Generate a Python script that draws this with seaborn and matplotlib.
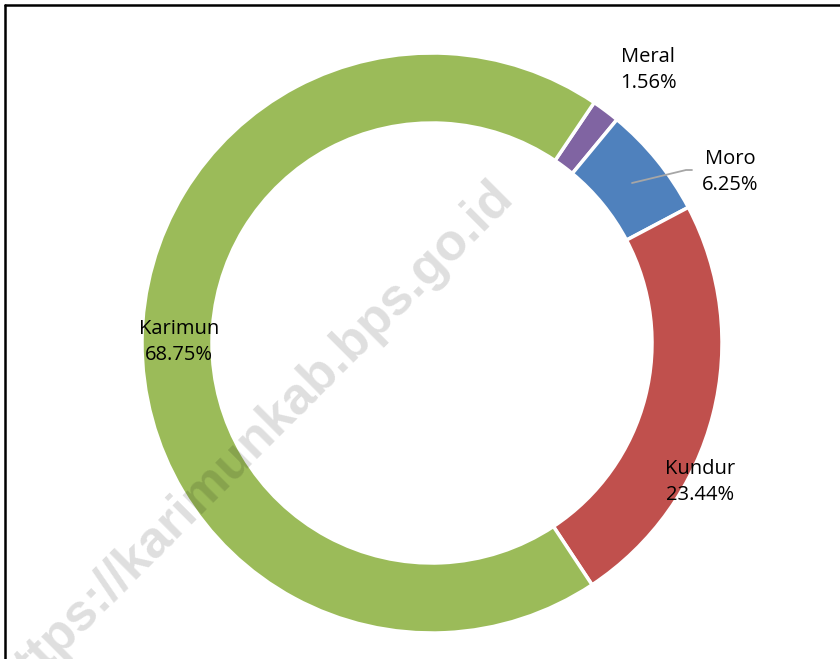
import matplotlib
matplotlib.use("Agg")
import matplotlib.pyplot as plt
import seaborn as sns

# data
regions = ["Meral", "Moro", "Kundur", "Karimun"]
shares = [1.56, 6.25, 23.44, 68.75]
colors = ["#8064A2", "#4F81BD", "#C0504D", "#9BBB59"]

sns.set_theme(style="white")
plt.rcParams['font.family'] = ['Open Sans', 'DejaVu Sans']

W, H = 840, 659
fig = plt.figure(figsize=(W / 100, H / 100), dpi=100)
ax = fig.add_axes([0, 0, 1, 1])

wedges, _ = ax.pie(shares, colors=colors, startangle=56, counterclock=False,
                   center=(432, H - 343), radius=290,
                   wedgeprops=dict(width=70, edgecolor='white', linewidth=2.5))
ax.set_xlim(0, W)
ax.set_ylim(0, H)
ax.set_aspect('auto')
ax.axis('off')

# labels
label_pos = {"Meral": (648, 70), "Moro": (730, 172), "Kundur": (700, 482), "Karimun": (179, 342)}
for name, val in zip(regions, shares):
    x, y = label_pos[name]
    ax.text(x, H - y, f"{name}\n{val:.2f}%", ha='center', va='center',
            fontsize=14.5, color='black', linespacing=1.45)

# leader line for Moro
ax.plot([632, 686, 692], [H - 183, H - 170, H - 170], color='#a6a6a6', lw=1.3)

# watermark on top, translucent
ax.text(253, H - 441, "https://karimunkab.bps.go.id", rotation=45,
        ha='center', va='center', fontsize=37.5, fontweight='bold',
        color='black', alpha=0.13, family='Liberation Sans', zorder=10,
        clip_on=True)

# frame
fig.add_artist(plt.Line2D([5 / W, 5 / W], [0, 1 - 5 / H], color='black', lw=1.8, transform=fig.transFigure))
fig.add_artist(plt.Line2D([5 / W, 1], [1 - 5 / H, 1 - 5 / H], color='black', lw=1.8, transform=fig.transFigure))

fig.savefig("out.png", dpi=100)
